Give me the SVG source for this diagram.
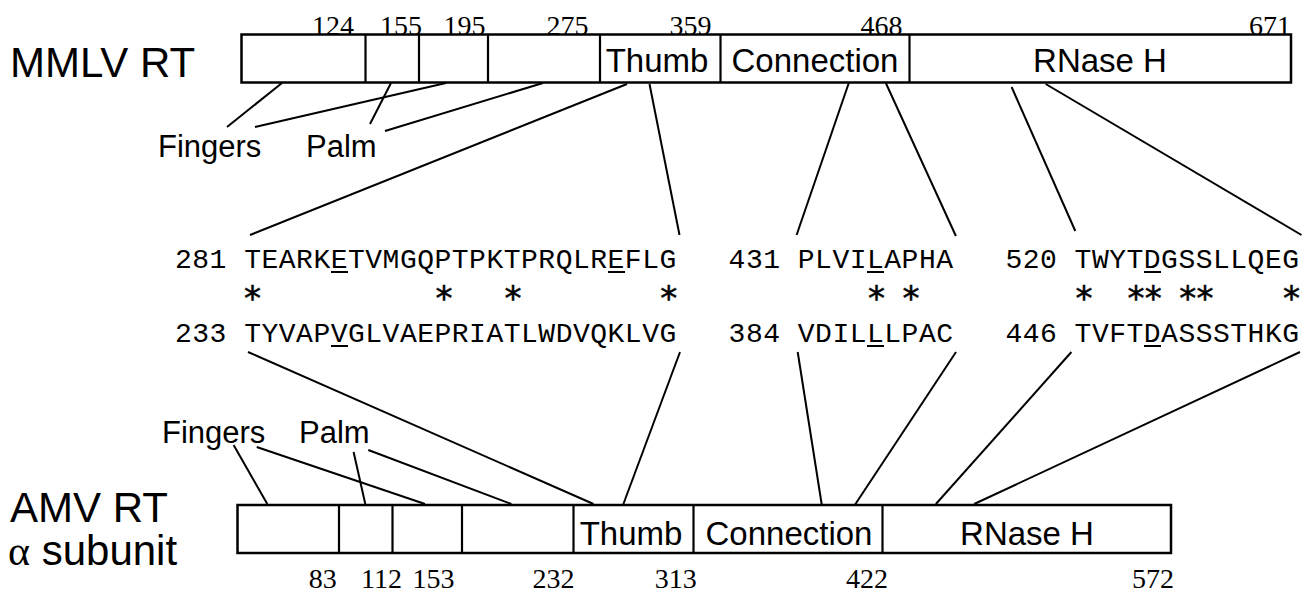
<svg xmlns="http://www.w3.org/2000/svg" width="1307" height="595" viewBox="0 0 1307 595">
<style>
.bar{fill:#fff;stroke:#000;stroke-width:2.5}
.div{stroke:#000;stroke-width:2.2}
.lbl{font-family:"Liberation Sans",Arial,sans-serif;fill:#000}
.big{font-size:42px}
.seg{font-size:33px;text-anchor:middle}
.dom{font-size:31px}
.num{font-family:"Liberation Serif","Times New Roman",serif;font-size:28px;text-anchor:end;fill:#000}
.seq{font-family:"Liberation Mono","Courier New",monospace;font-size:28px;letter-spacing:0.5px;fill:#000}
.ast{font-family:"DejaVu Sans",sans-serif;font-size:34px;text-anchor:middle;fill:#000;stroke:#000;stroke-width:0.5}
.ul{stroke:#000;stroke-width:2}
#connectors line{stroke:#000;stroke-width:2}
</style>
<rect width="1307" height="595" fill="#fff"/>

<g id="mmlv-label"><text class="lbl big" x="10" y="77">MMLV RT</text></g>

<g id="mmlv-bar">
<rect class="bar" x="241.5" y="34.5" width="1049.5" height="48"/>
<line class="div" x1="365.5" y1="34.5" x2="365.5" y2="82.5"/>
<line class="div" x1="419" y1="34.5" x2="419" y2="82.5"/>
<line class="div" x1="488" y1="34.5" x2="488" y2="82.5"/>
<line class="div" x1="600" y1="34.5" x2="600" y2="82.5"/>
<line class="div" x1="720.5" y1="34.5" x2="720.5" y2="82.5"/>
<line class="div" x1="909.5" y1="34.5" x2="909.5" y2="82.5"/>
<text class="lbl seg" x="657" y="71.5">Thumb</text>
<text class="lbl seg" x="815" y="71.5">Connection</text>
<text class="lbl seg" x="1100" y="71.5">RNase H</text>
<text class="num" x="354" y="35">124</text>
<text class="num" x="422" y="35">155</text>
<text class="num" x="485.5" y="35">195</text>
<text class="num" x="588.5" y="35">275</text>
<text class="num" x="711.6" y="35">359</text>
<text class="num" x="902.4" y="35">468</text>
<text class="num" x="1291" y="35">671</text>
</g>

<g id="mmlv-domains">
<text class="lbl dom" x="158" y="157">Fingers</text>
<text class="lbl dom" x="306" y="157">Palm</text>
</g>

<g id="seq-mmlv">
<text class="seq" x="175" y="268">281</text>
<text class="seq" x="244.2" y="268">TEARKETVMGQPTPKTPRQLREFLG</text>
<text class="seq" x="728.6" y="268">431</text>
<text class="seq" x="797.8" y="268">PLVILAPHA</text>
<text class="seq" x="1005.4" y="268">520</text>
<text class="seq" x="1074.6" y="268">TWYTDGSSLLQEG</text>
<line class="ul" x1="331" y1="272" x2="348" y2="272"/>
<line class="ul" x1="608" y1="272" x2="625" y2="272"/>
<line class="ul" x1="867" y1="272" x2="884" y2="272"/>
<line class="ul" x1="1144" y1="272" x2="1161" y2="272"/>
</g>

<g id="identity">
<text class="ast" x="252.6 443.9 513.1 668.8 876.4 911 1084 1135.9 1153.2 1187.8 1205.1 1291.6" y="310">************</text>
</g>

<g id="seq-amv">
<text class="seq" x="175" y="342">233</text>
<text class="seq" x="244.2" y="342">TYVAPVGLVAEPRIATLWDVQKLVG</text>
<text class="seq" x="728.6" y="342">384</text>
<text class="seq" x="797.8" y="342">VDILLLPAC</text>
<text class="seq" x="1005.4" y="342">446</text>
<text class="seq" x="1074.6" y="342">TVFTDASSSTHKG</text>
<line class="ul" x1="331" y1="346" x2="348" y2="346"/>
<line class="ul" x1="867" y1="346" x2="884" y2="346"/>
<line class="ul" x1="1144" y1="346" x2="1161" y2="346"/>
</g>

<g id="amv-domains">
<text class="lbl dom" x="162" y="443">Fingers</text>
<text class="lbl dom" x="299" y="443">Palm</text>
</g>

<g id="amv-label">
<text class="lbl big" x="10" y="521.7">AMV RT</text>
<text class="lbl big" x="8" y="565"><tspan font-family="Liberation Serif,serif">α</tspan> subunit</text>
</g>

<g id="amv-bar">
<rect class="bar" x="237.5" y="505" width="933.5" height="48"/>
<line class="div" x1="339" y1="505" x2="339" y2="553"/>
<line class="div" x1="392.5" y1="505" x2="392.5" y2="553"/>
<line class="div" x1="462" y1="505" x2="462" y2="553"/>
<line class="div" x1="573.5" y1="505" x2="573.5" y2="553"/>
<line class="div" x1="693.5" y1="505" x2="693.5" y2="553"/>
<line class="div" x1="882.5" y1="505" x2="882.5" y2="553"/>
<text class="lbl seg" x="631" y="545">Thumb</text>
<text class="lbl seg" x="789" y="545">Connection</text>
<text class="lbl seg" x="1027" y="545">RNase H</text>
<text class="num" x="336.7" y="588">83</text>
<text class="num" x="402" y="588">112</text>
<text class="num" x="454.5" y="588">153</text>
<text class="num" x="574.5" y="588">232</text>
<text class="num" x="696.8" y="588">313</text>
<text class="num" x="888" y="588">422</text>
<text class="num" x="1174" y="588">572</text>
</g>

<g id="connectors">
<line x1="282" y1="83" x2="227" y2="127"/>
<line x1="446" y1="83" x2="255" y2="127"/>
<line x1="391" y1="83" x2="370" y2="124"/>
<line x1="543" y1="83" x2="385" y2="131"/>
<line x1="627" y1="84" x2="250" y2="235"/>
<line x1="649.5" y1="84" x2="679.5" y2="235"/>
<line x1="848.8" y1="83" x2="796.6" y2="235"/>
<line x1="885.8" y1="83" x2="955.9" y2="236"/>
<line x1="1011.6" y1="87" x2="1075.3" y2="231"/>
<line x1="1045.7" y1="84" x2="1301.5" y2="235"/>
<line x1="248" y1="352" x2="593.5" y2="504"/>
<line x1="680" y1="352" x2="623.4" y2="504"/>
<line x1="797.7" y1="352" x2="821.8" y2="505"/>
<line x1="956" y1="352" x2="854.8" y2="505"/>
<line x1="1071.4" y1="352" x2="935.9" y2="504"/>
<line x1="1300" y1="352" x2="974.2" y2="504"/>
<line x1="233.6" y1="445" x2="267.3" y2="504"/>
<line x1="256.7" y1="447" x2="425" y2="504"/>
<line x1="353.6" y1="452" x2="365.3" y2="504"/>
<line x1="368.3" y1="450" x2="511.4" y2="504"/>
</g>
</svg>
